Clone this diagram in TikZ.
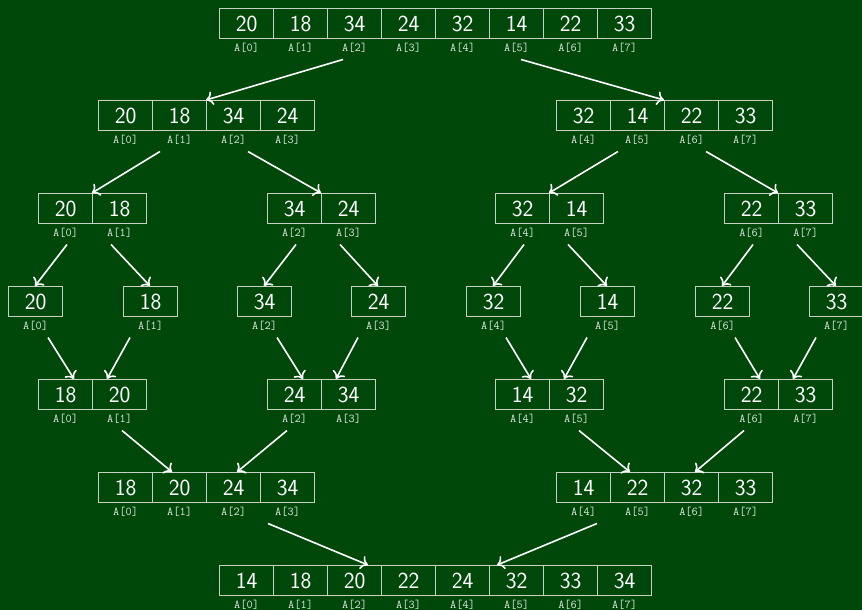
\documentclass[tikz,border=0pt]{standalone}
\usepackage{tikz}
\usetikzlibrary{positioning, arrows.meta, calc}
\definecolor{bgcolor}{RGB}{0, 72, 10}
\definecolor{edgecolor}{RGB}{196, 210, 196}
\definecolor{idxcolor}{RGB}{225, 232, 225}
% one row of cells: name, left x, top y, first index, length, values
\newcommand{\mkarray}[6]{%
  \foreach \v [count=\i from 0] in {#6} {
    \pgfmathtruncatemacro{\k}{#4+\i}
    \node[cell, anchor=north west] (#1-\i) at (#2+54*\i, #3) {\v};
    \node[idx] (#1-i\i) at ($(#1-\i.south)+(0,9)$) {A[\k]};
  }
  \coordinate (#1) at (#2+27*#5, #3);
  \coordinate (#1-b) at (#2+27*#5, #3+51.5);
}

\begin{document}
\begin{tikzpicture}[
  x=1pt, y=-1pt,
  >={Computer Modern Rightarrow[length=7pt, width=14pt]},
  % --- Styles ---
  cell/.style={
    rectangle, draw=edgecolor, line width=1.2pt, text=white,
    minimum width=54pt, minimum height=30pt, inner sep=0pt,
    font=\sffamily\fontsize{23}{23}\selectfont},
  idx/.style={text=idxcolor, inner sep=0pt,
    font=\ttfamily\fontsize{12}{12}\selectfont},
  arr/.style={->, white, line width=1.6pt},
]
\useasboundingbox (0,0) rectangle (862,610);
\fill[bgcolor] (0,0) rectangle (862,610);

% === ARRAYS ===
% split
\mkarray{a0}{219}{8}{0}{8}{20,18,34,24,32,14,22,33}
\mkarray{a1l}{98}{100}{0}{4}{20,18,34,24}
\mkarray{a1r}{556}{100}{4}{4}{32,14,22,33}
\mkarray{a2a}{38}{193}{0}{2}{20,18}
\mkarray{a2b}{267}{193}{2}{2}{34,24}
\mkarray{a2c}{495}{193}{4}{2}{32,14}
\mkarray{a2d}{724}{193}{6}{2}{22,33}
% single cells
\mkarray{c0}{8}{286}{0}{1}{20}
\mkarray{c1}{123}{286}{1}{1}{18}
\mkarray{c2}{237}{286}{2}{1}{34}
\mkarray{c3}{351}{286}{3}{1}{24}
\mkarray{c4}{466}{286}{4}{1}{32}
\mkarray{c5}{580}{286}{5}{1}{14}
\mkarray{c6}{695}{286}{6}{1}{22}
\mkarray{c7}{809}{286}{7}{1}{33}
% merge
\mkarray{m2a}{38}{379}{0}{2}{18,20}
\mkarray{m2b}{267}{379}{2}{2}{24,34}
\mkarray{m2c}{495}{379}{4}{2}{14,32}
\mkarray{m2d}{724}{379}{6}{2}{22,33}
\mkarray{m1l}{98}{472}{0}{4}{18,20,24,34}
\mkarray{m1r}{556}{472}{4}{4}{14,22,32,33}
\mkarray{m0}{219}{565}{0}{8}{14,18,20,22,24,32,33,34}

% === ARROWS ===
% split
\draw[arr] ([xshift=-92pt]a0-b) -- (a1l);
\draw[arr] ([xshift=86pt]a0-b) -- (a1r);
\draw[arr] ([xshift=-46pt]a1l-b) -- (a2a);
\draw[arr] ([xshift=42pt]a1l-b) -- (a2b);
\draw[arr] ([xshift=-46pt]a1r-b) -- (a2c);
\draw[arr] ([xshift=42pt]a1r-b) -- (a2d);
\draw[arr] ([xshift=-25pt]a2a-b) -- (c0);
\draw[arr] ([xshift=19pt]a2a-b) -- (c1);
\draw[arr] ([xshift=-25pt]a2b-b) -- (c2);
\draw[arr] ([xshift=19pt]a2b-b) -- (c3);
\draw[arr] ([xshift=-25pt]a2c-b) -- (c4);
\draw[arr] ([xshift=19pt]a2c-b) -- (c5);
\draw[arr] ([xshift=-25pt]a2d-b) -- (c6);
\draw[arr] ([xshift=19pt]a2d-b) -- (c7);
% merge
\draw[arr] ([xshift=13pt]c0-b) -- ([xshift=-18pt]m2a);
\draw[arr] ([xshift=-20pt]c1-b) -- ([xshift=15pt]m2a);
\draw[arr] ([xshift=13pt]c2-b) -- ([xshift=-18pt]m2b);
\draw[arr] ([xshift=-20pt]c3-b) -- ([xshift=15pt]m2b);
\draw[arr] ([xshift=13pt]c4-b) -- ([xshift=-18pt]m2c);
\draw[arr] ([xshift=-20pt]c5-b) -- ([xshift=15pt]m2c);
\draw[arr] ([xshift=13pt]c6-b) -- ([xshift=-18pt]m2d);
\draw[arr] ([xshift=-20pt]c7-b) -- ([xshift=15pt]m2d);
\draw[arr] ([xshift=30pt]m2a-b) -- ([xshift=-34pt]m1l);
\draw[arr] ([xshift=-34pt]m2b-b) -- ([xshift=31pt]m1l);
\draw[arr] ([xshift=30pt]m2c-b) -- ([xshift=-34pt]m1r);
\draw[arr] ([xshift=-34pt]m2d-b) -- ([xshift=31pt]m1r);
\draw[arr] ([xshift=62pt]m1l-b) -- ([xshift=-67pt]m0);
\draw[arr] ([xshift=-67pt]m1r-b) -- ([xshift=62pt]m0);
\end{tikzpicture}
\end{document}
